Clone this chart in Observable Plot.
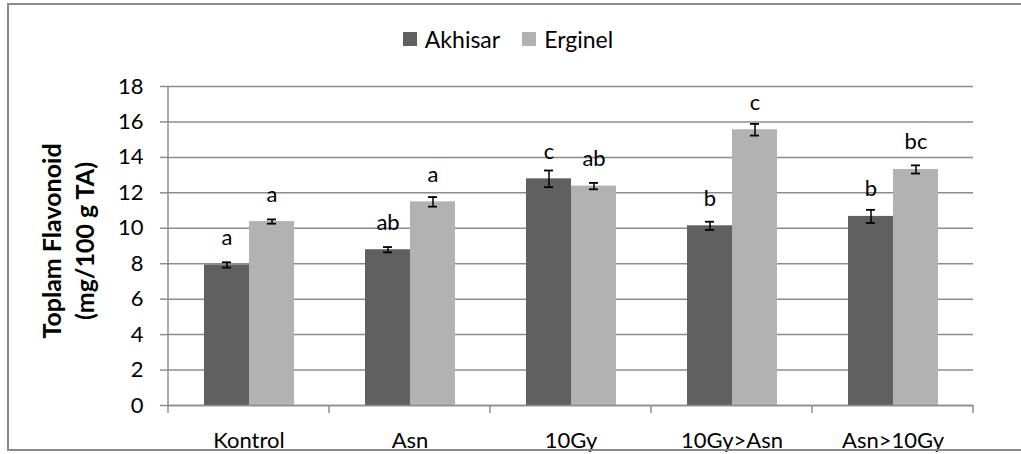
<!DOCTYPE html>
<html>
<head>
<meta charset="utf-8">
<script src="https://cdn.jsdelivr.net/npm/d3@7"></script>
<script src="https://cdn.jsdelivr.net/npm/@observablehq/plot@0.6"></script>
<style>
  html, body { margin: 0; padding: 0; background: #fff; }
  body { position: relative; width: 1021px; height: 454px; overflow: hidden; font-family: Lato, "Liberation Sans", sans-serif; }
  #frame { position: absolute; left: 7px; top: 3px; width: 1040px; height: 448px; border: 2px solid #8a8a8a; box-sizing: border-box; pointer-events: none; }
  #chart { position: absolute; left: 0; top: 0; }
  #legend { position: absolute; left: 0; width: 1016px; top: 25px; display: flex; justify-content: center; gap: 22px; font-size: 23px; color: #000; }
  #legend .item { display: flex; align-items: center; gap: 8px; }
  #legend .sw { width: 14px; height: 14px; display: inline-block; }
  #ytitle { position: absolute; left: 68px; top: 241px; transform: translate(-50%, -50%) rotate(-90deg); font-weight: bold; font-size: 25px; line-height: 33px; text-align: center; white-space: nowrap; color: #000; }
</style>
</head>
<body>
<div id="chart"></div>
<div id="legend"></div>
<div id="ytitle">Toplam Flavonoid<br>(mg/100 g TA)</div>
<div id="frame"></div>
<script>
const categories = ["Kontrol", "Asn", "10Gy", "10Gy>Asn", "Asn>10Gy"];
const series = ["Akhisar", "Erginel"];
const akhisar = [7.93, 8.79, 12.79, 10.14, 10.67];
const erginel = [10.38, 11.49, 12.38, 15.56, 13.32];
const akhisarErr = [0.15, 0.15, 0.47, 0.23, 0.37];
const erginelErr = [0.12, 0.27, 0.18, 0.33, 0.23];
const akhisarLetters = ["a", "ab", "c", "b", "b"];
const erginelLetters = ["a", "a", "ab", "c", "bc"];
const yTicks = [0, 2, 4, 6, 8, 10, 12, 14, 16, 18];
const colors = ["#606060", "#b2b2b2"];
const axisColor = "#8c8c8c";
const font = "Lato, 'Liberation Sans', sans-serif";

const rows = [];
categories.forEach((c, i) => {
  rows.push({cat: c, series: "Akhisar", value: akhisar[i], err: akhisarErr[i], letter: akhisarLetters[i]});
  rows.push({cat: c, series: "Erginel", value: erginel[i], err: erginelErr[i], letter: erginelLetters[i]});
});

// legend
const legend = document.getElementById("legend");
series.forEach((s, i) => {
  const it = document.createElement("span");
  it.className = "item";
  it.innerHTML = `<span class="sw" style="background:${colors[i]}"></span><span>${s}</span>`;
  legend.appendChild(it);
});

const chart = Plot.plot({
  width: 1021,
  height: 454,
  marginLeft: 166,
  marginRight: 46,
  marginTop: 86,
  marginBottom: 49,
  style: { fontFamily: font, fontSize: "22px", color: "#000", background: "transparent", overflow: "visible" },
  fx: { domain: categories, padding: 0, label: null },
  x: { domain: series, paddingInner: 0, paddingOuter: 0.76, axis: null },
  y: { domain: [0, 18], label: null },
  color: { domain: series, range: colors },
  marks: [
    Plot.gridY(yTicks, { stroke: axisColor, strokeOpacity: 1, strokeWidth: 1.5 }),
    Plot.axisY(yTicks, { anchor: "left", tickSize: 8, tickPadding: 17, stroke: axisColor, strokeWidth: 1.5, label: null, fontSize: 22, fill: "#000" }),
    Plot.axisFx({ anchor: "bottom", tickSize: 0, tickPadding: 27, label: null, fontSize: 22, fill: "#000" }),
    Plot.barY(rows, { fx: "cat", x: "series", y: "value", fill: "series" }),
    Plot.ruleY([0], { stroke: axisColor, strokeWidth: 1.5 }),
    Plot.ruleX(rows, { fx: "cat", x: "series", y1: d => d.value - d.err, y2: d => d.value + d.err, stroke: "#000", strokeWidth: 1.5 }),
    Plot.tickY(rows, { fx: "cat", x: "series", y: d => d.value - d.err, insetLeft: 18, insetRight: 18, stroke: "#000", strokeWidth: 1.8 }),
    Plot.tickY(rows, { fx: "cat", x: "series", y: d => d.value + d.err, insetLeft: 18, insetRight: 18, stroke: "#000", strokeWidth: 1.8 }),
    Plot.text(rows, { fx: "cat", x: "series", y: "value", text: "letter", lineAnchor: "bottom", dy: -20, fontSize: 22, fill: "#000" })
  ]
});
document.getElementById("chart").appendChild(chart);

// y-axis line and category boundary ticks, positioned with the plot's own scales
const fxScale = chart.scale("fx");
const yScale = chart.scale("y");
const bw = fxScale.bandwidth;
const edges = categories.map(c => fxScale.apply(c));
edges.push(fxScale.apply(categories[categories.length - 1]) + bw);
const y0 = yScale.apply(0), yTop = yScale.apply(18);
const g = d3.select(chart).append("g").attr("stroke", axisColor).attr("stroke-width", 1.5);
g.append("line").attr("x1", edges[0]).attr("x2", edges[0]).attr("y1", yTop).attr("y2", y0);
edges.forEach(x => {
  g.append("line").attr("x1", x).attr("x2", x).attr("y1", y0).attr("y2", y0 + 8);
});
</script>
</body>
</html>
